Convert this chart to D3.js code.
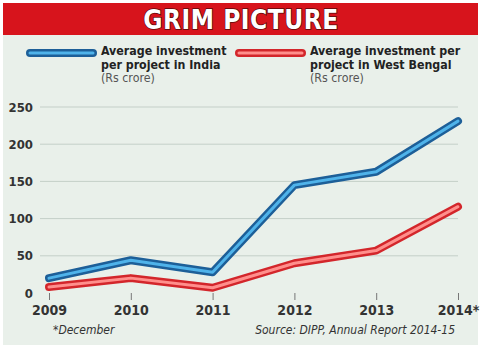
<!DOCTYPE html>
<html>
<head>
<meta charset="utf-8">
<script src="https://cdn.jsdelivr.net/npm/d3@7"></script>
<style>
  body { margin: 0; background: #ffffff; }
  svg { display: block; }
  text { font-family: "Liberation Sans Narrow", "DejaVu Sans Condensed", "Liberation Sans", sans-serif; }
</style>
</head>
<body>
<svg id="chart" width="482" height="351"></svg>
<script>
const years = ['2009', '2010', '2011', '2012', '2013', '2014*']
const india = [20, 44, 28, 145, 163, 231]
const westBengal = [8, 20, 7, 40, 57, 116]
const yTicks = [0, 50, 100, 150, 200, 250]

const svg = d3.select('#chart')
const width = +svg.attr('width')

// ========= BACKGROUND + HEADER =========== \\
svg.append('rect').attr('x', 3).attr('y', 3).attr('width', 475).attr('height', 342).attr('fill', '#e9f0ea')
svg.append('rect').attr('x', 3).attr('y', 3).attr('width', 475).attr('height', 32).attr('fill', '#d7141c')

svg.append('text')
    .attr('x', width / 2).attr('y', 29)
    .attr('text-anchor', 'middle')
    .attr('font-size', 26).attr('font-weight', 'bold')
    .attr('font-family', '"Liberation Sans", Arial, sans-serif')
    .attr('fill', '#ffffff').attr('stroke', '#5a0a0a').attr('stroke-width', 1.5)
    .attr('paint-order', 'stroke')
    .attr('letter-spacing', 0.5)
    .text('GRIM PICTURE')

// ========= SCALES =========== \\
const x = d3.scalePoint().domain(years).range([49, 458])
const y = d3.scaleLinear().domain([0, 250]).range([293, 107])

const chartArea = svg.append('g')

chartArea.selectAll('line.grid')
    .data(yTicks.filter(d => d > 0))
    .join('line')
    .attr('class', 'grid')
    .attr('x1', 40).attr('x2', 458)
    .attr('y1', d => y(d)).attr('y2', d => y(d))
    .attr('stroke', '#c4cfc8').attr('stroke-width', 1)

const yAxis = chartArea.append('g')
    .attr('transform', 'translate(33,0)')
    .call(d3.axisLeft(y).tickValues(yTicks).tickSize(0).tickPadding(0))
yAxis.select('.domain').remove()
yAxis.selectAll('text')
    .attr('font-size', 13).attr('font-weight', 'bold').attr('fill', '#333')
    .attr('font-family', '"Liberation Sans Narrow", "DejaVu Sans Condensed", sans-serif')

const xAxis = chartArea.append('g')
    .attr('transform', 'translate(0,293)')
    .call(d3.axisBottom(x).tickSize(7).tickPadding(5))
xAxis.select('.domain').remove()
xAxis.selectAll('line').attr('stroke', '#777')
xAxis.selectAll('text')
    .attr('font-size', 14).attr('font-weight', 'bold').attr('fill', '#333')
    .attr('font-family', '"Liberation Sans Narrow", "DejaVu Sans Condensed", sans-serif')

// ============ DRAW LINES ============== \\
const line = d3.line().x((d, i) => x(years[i])).y(d => y(d))

const seriesList = [
    { values: westBengal, outer: '#d3262b', inner: '#ff8f8c' },
    { values: india, outer: '#1d5f98', inner: '#4fb3ea' }
]

seriesList.forEach(s => {
    chartArea.append('path').datum(s.values)
        .attr('d', line).attr('fill', 'none')
        .attr('stroke', s.outer).attr('stroke-width', 8)
        .attr('stroke-linejoin', 'round').attr('stroke-linecap', 'round')
    chartArea.append('path').datum(s.values)
        .attr('d', line).attr('fill', 'none')
        .attr('stroke', s.inner).attr('stroke-width', 3)
        .attr('stroke-linejoin', 'round').attr('stroke-linecap', 'round')
})

// ============ LEGEND ============== \\
const legendItems = [
    { x: 27, lines: ['Average investment', 'per project in India', '(Rs crore)'], outer: '#1d5f98', inner: '#4fb3ea' },
    { x: 236, lines: ['Average investment per', 'project in West Bengal', '(Rs crore)'], outer: '#d3262b', inner: '#ff8f8c' }
]

legendItems.forEach(item => {
    const g = svg.append('g').attr('transform', `translate(${item.x},53)`)
    g.append('line').attr('x1', 3).attr('x2', 66).attr('y1', 0).attr('y2', 0)
        .attr('stroke', item.outer).attr('stroke-width', 8).attr('stroke-linecap', 'round')
    g.append('line').attr('x1', 3).attr('x2', 66).attr('y1', 0).attr('y2', 0)
        .attr('stroke', item.inner).attr('stroke-width', 3).attr('stroke-linecap', 'round')
    item.lines.forEach((t, i) => {
        g.append('text')
            .attr('x', 74).attr('y', 2 + i * 13.5)
            .attr('font-size', 12.3).attr('font-weight', i < 2 ? 'bold' : 'normal')
            .attr('fill', i < 2 ? '#222' : '#555')
            .text(t)
    })
})

// ============ FOOTNOTES ============== \\
svg.append('text').attr('x', 53).attr('y', 334)
    .attr('font-size', 12).attr('font-style', 'italic').attr('fill', '#333')
    .text('*December')
svg.append('text').attr('x', 455).attr('y', 334)
    .attr('text-anchor', 'end')
    .attr('font-size', 12).attr('font-style', 'italic').attr('fill', '#333')
    .text('Source: DIPP, Annual Report 2014-15')
</script>
</body>
</html>
